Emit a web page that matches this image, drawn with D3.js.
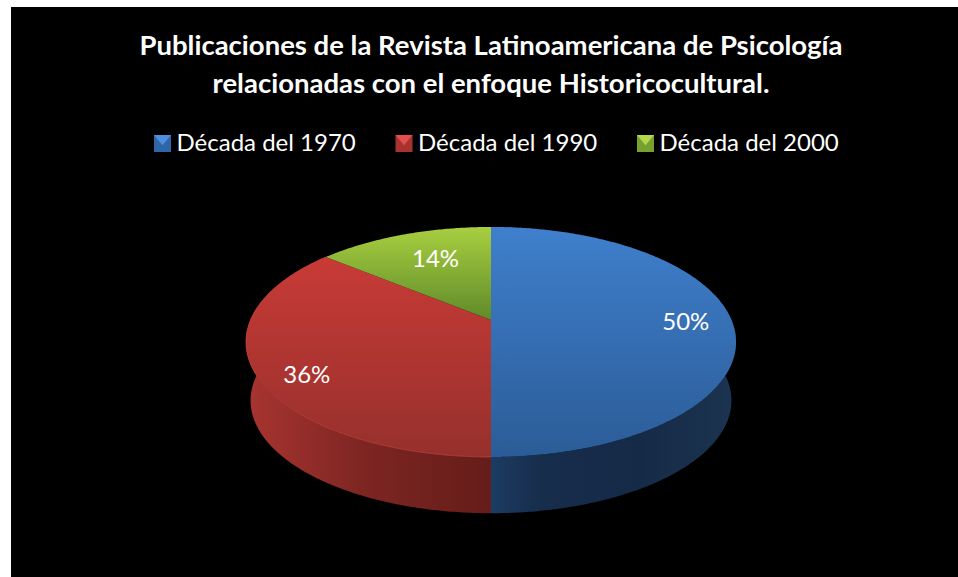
<!DOCTYPE html>
<html>
<head>
<meta charset="utf-8">
<script src="https://cdn.jsdelivr.net/npm/d3@7"></script>
<style>
  html, body { margin: 0; padding: 0; background: #fff; }
  svg { display: block; }
  text { font-family: Lato, "Open Sans", sans-serif; fill: #fff; }
</style>
</head>
<body>
<script>
const titleLines = [
    "Publicaciones de la Revista Latinoamericana de Psicología",
    "relacionadas con el enfoque Historicocultural."
];
const categories = ["Década del 1970", "Década del 1990", "Década del 2000"];
const values = [50, 36, 14];
const valueLabels = ["50%", "36%", "14%"];

const width = 958;
const height = 577;

const topStops = [
    ["#3f7fcc", "#2b5c97"],
    ["#d03c38", "#96302c"],
    ["#a8cf40", "#5f8a2a"]
];
const legendColors = [
    ["#4f8fdc", "#2f66a8"],
    ["#e0504c", "#a8322e"],
    ["#b4d84c", "#76a030"]
];
const sideStops = [
    [[0, "#1c3c62"], [0.2, "#172d4c"], [0.6, "#152a47"], [1, "#1c344f"]],
    [[0, "#a83430"], [0.5, "#7c2522"], [1, "#651d19"]]
];

const svg = d3.select("body").append("svg")
    .attr("width", width)
    .attr("height", height);

svg.append("rect")
    .attr("x", 11)
    .attr("y", 7)
    .attr("width", width - 11)
    .attr("height", height - 7)
    .attr("fill", "#000");

const defs = svg.append("defs");

// pie lies on a tilted plane, so the apex sits above the middle of the ellipse
const cx = 491;
const apexY = 320;
const persp = 0.191;
const topFace = { rx: 240.5, ry: 110.8, y0: apexY };
const bottomFace = { rx: 236, ry: 108.6, y0: 379 };

function project(angle, r, face) {
    const u = Math.sin(angle) * r;
    const v = -Math.cos(angle) * r;
    const w = 1 - persp * v;
    return [cx + face.rx * u / w, face.y0 + face.ry * v / w];
}

function arcPoints(a0, a1, face) {
    const n = Math.max(2, Math.ceil((a1 - a0) / 0.01));
    return d3.range(n + 1).map(i => project(a0 + (a1 - a0) * i / n, 1, face));
}

const line = d3.line();
const arcs = d3.pie().sort(null).value(d => d).startAngle(0).endAngle(2 * Math.PI)(values);

// gradients
arcs.forEach((d, i) => {
    const g = defs.append("linearGradient")
        .attr("id", "top" + i)
        .attr("gradientUnits", "userSpaceOnUse")
        .attr("x1", 0).attr("x2", 0)
        .attr("y1", 227)
        .attr("y2", i === 2 ? 320 : 457);
    g.append("stop").attr("offset", 0).attr("stop-color", topStops[i][0]);
    g.append("stop").attr("offset", 1).attr("stop-color", topStops[i][1]);
});

const sideX = [[491, 736], [246, 491]];
sideStops.forEach((stops, i) => {
    const g = defs.append("linearGradient")
        .attr("id", "side" + i)
        .attr("gradientUnits", "userSpaceOnUse")
        .attr("y1", 0).attr("y2", 0)
        .attr("x1", sideX[i][0])
        .attr("x2", sideX[i][1]);
    stops.forEach(s => g.append("stop").attr("offset", s[0]).attr("stop-color", s[1]));
});

// walls: only the blue and red slices face the viewer
[0, 1].forEach(i => {
    const d = arcs[i];
    const pts = arcPoints(d.startAngle, d.endAngle, topFace)
        .concat(arcPoints(d.startAngle, d.endAngle, bottomFace).reverse());
    svg.append("path")
        .attr("d", line(pts) + "Z")
        .attr("fill", `url(#side${i})`);
});

// top faces
arcs.forEach((d, i) => {
    const pts = [project(0, 0, topFace)].concat(arcPoints(d.startAngle, d.endAngle, topFace));
    svg.append("path")
        .attr("d", line(pts) + "Z")
        .attr("fill", `url(#top${i})`);
});

// light rim along the front edge of the red slice
svg.append("path")
    .attr("d", line(arcPoints(arcs[1].startAngle, arcs[1].endAngle, topFace)))
    .attr("fill", "none")
    .attr("stroke", "#c9453f")
    .attr("stroke-opacity", 0.7)
    .attr("stroke-width", 1);

// value labels
const labelRadius = [0.81, 0.84, 0.67];
const labelNudge = [[0, 2], [12, 12], [6, -1]];
arcs.forEach((d, i) => {
    const p = project((d.startAngle + d.endAngle) / 2, labelRadius[i], topFace);
    svg.append("text")
        .attr("x", p[0] + labelNudge[i][0])
        .attr("y", p[1] + labelNudge[i][1])
        .attr("dy", "0.35em")
        .attr("text-anchor", "middle")
        .attr("font-size", 24)
        .text(valueLabels[i]);
});

// title
svg.selectAll(".title")
    .data(titleLines)
    .join("text")
    .attr("class", "title")
    .attr("x", 491)
    .attr("y", (d, i) => 55 + i * 37.5)
    .attr("text-anchor", "middle")
    .attr("font-size", 27.5)
    .attr("font-weight", 700)
    .text(d => d);

// legend
const legendX = d3.scalePoint().domain(categories).range([154, 637]);
const legend = svg.selectAll(".legend")
    .data(categories)
    .join("g")
    .attr("class", "legend")
    .attr("transform", d => `translate(${legendX(d)},135)`);

const sw = 17;
legend.append("rect")
    .attr("width", sw)
    .attr("height", sw)
    .attr("fill", (d, i) => legendColors[i][1]);

// bevelled swatch: lighter wedge coming down from the top edge
legend.append("path")
    .attr("d", line([[0, 0], [sw, 0], [sw / 2, sw * 0.6]]) + "Z")
    .attr("fill", (d, i) => legendColors[i][0]);

legend.append("text")
    .attr("x", 22.5)
    .attr("y", 16)
    .attr("font-size", 24)
    .text(d => d);
</script>
</body>
</html>
